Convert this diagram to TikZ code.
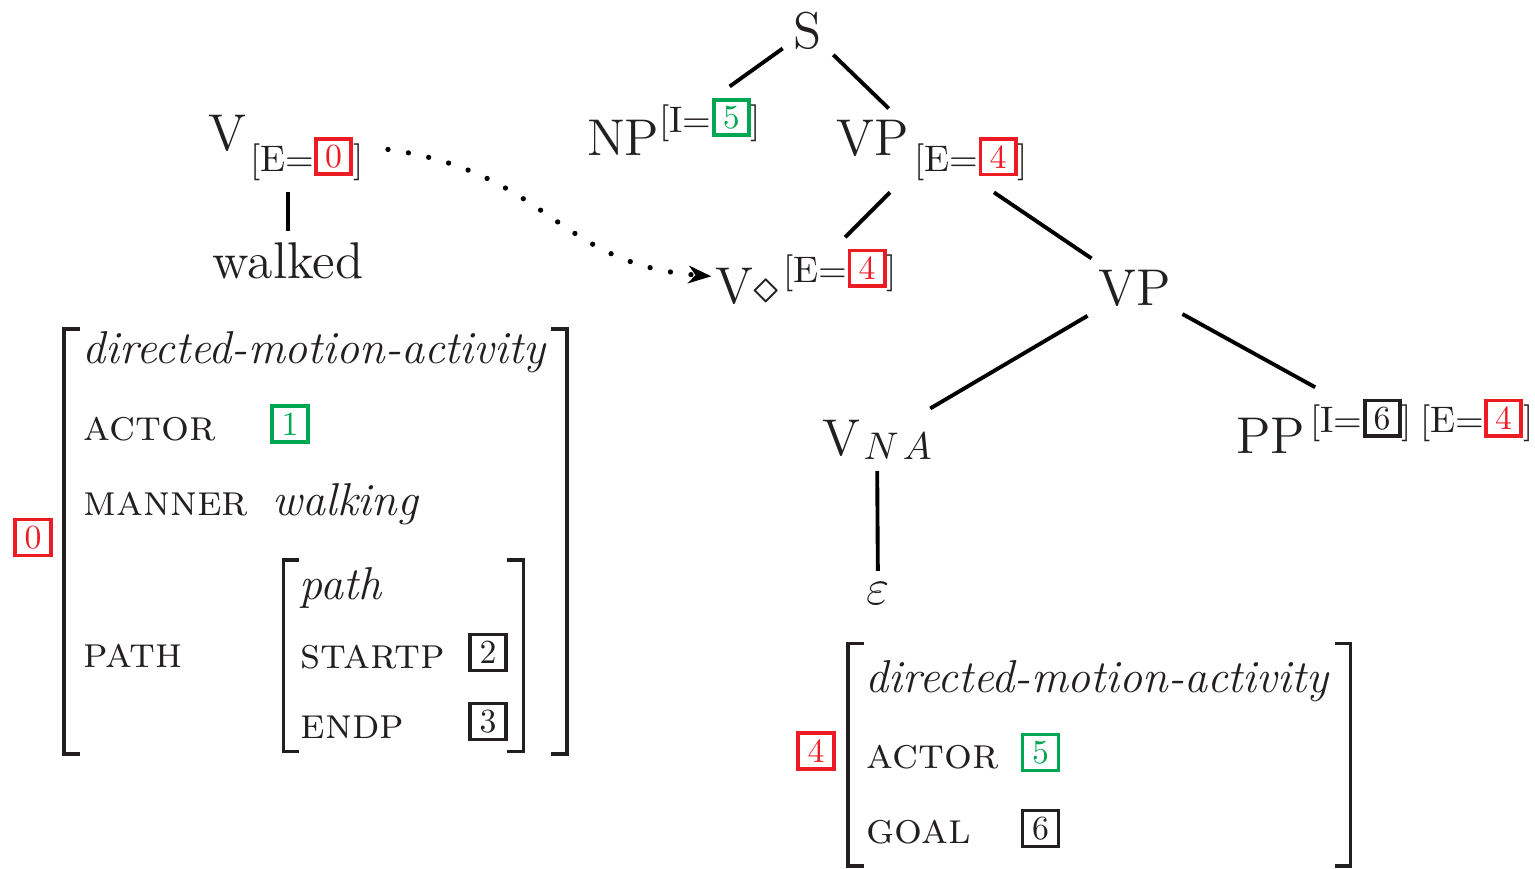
\documentclass[tikz,border=0pt]{standalone}
\usetikzlibrary{arrows.meta}
\definecolor{ink}{RGB}{35,31,32}
\definecolor{tagred}{RGB}{237,28,36}
\definecolor{taggreen}{RGB}{0,166,81}
\newcommand{\treesize}{\fontsize{14.7}{17}\selectfont}
\newcommand{\avmsize}{\fontsize{12.5}{15}\selectfont}
\newcommand{\typesize}{\fontsize{13.1}{16}\selectfont}
\newcommand{\featsize}{\fontsize{10.5}{12}\selectfont}
\newcommand{\featup}[2]{\raisebox{#1}{\featsize #2}}
\newcommand{\tagbox}[2]{\raisebox{1.1pt}{\textcolor{#1}{\setlength{\fboxrule}{1.1pt}\setlength{\fboxsep}{0pt}\fbox{\makebox[8.9pt]{\rule[-1.3pt]{0pt}{8.9pt}\fontsize{9.6}{10}\selectfont #2}}}}}
\begin{document}
\begin{tikzpicture}[x=0.01cm,y=-0.01cm,
  label/.style={anchor=base,inner sep=3pt,text=ink,font=\treesize},
  branch/.style={line width=1.1pt},
  feature/.style={anchor=base west,inner sep=0pt,text=ink,font=\avmsize},
  avmtype/.style={anchor=base west,inner sep=0pt,text=ink,font=\typesize\itshape},
  tagnode/.style={draw=#1,text=#1,line width=1.1pt,minimum size=0.36cm,inner sep=0pt,font=\fontsize{9.6}{10}\selectfont},
  avmbracket/.style={draw=ink,line width=1.1pt},
  linkarrow/.style={line width=1.5pt,line cap=round,dash pattern=on 0pt off 5.9pt,-{Stealth[length=6.5pt,width=5pt,inset=2pt]}}]
\useasboundingbox (0,0) rectangle (1535,869);

% tree
\node[label] (S) at (808,48) {S};
\node[label] (NP) at (674,155) {NP\featup{6.5pt}{[I=\tagbox{taggreen}{5}]}};
\node[label] (VP) at (932,155) {VP\kern1.7pt\featup{-4.8pt}{[E=\tagbox{tagred}{4}]}};
\node[label] (Vd) at (806,303) {V$\diamond$\kern1.4pt\featup{5.7pt}{[E=\tagbox{tagred}{4}]}};
\node[label] (VPtwo) at (1135,305) {VP};
\node[label] (VNA) at (877,455) {V\kern1pt\featup{-1.4pt}{$N\mkern2mu A$}};
\node[label] (PP) at (1385,453) {PP\kern1.4pt\featup{5.7pt}{[I=\tagbox{ink}{6}]\kern2.3pt[E=\tagbox{tagred}{4}]}};
\node[label] (eps) at (878,604) {$\varepsilon$};
\draw[branch] (S) -- (NP);
\draw[branch] (S) -- (VP);
\draw[branch] (VP) -- (Vd);
\draw[branch] (VP) -- (VPtwo);
\draw[branch] (VPtwo) -- (VNA);
\draw[branch] (VPtwo) -- (PP);
\draw[branch] (VNA) -- (eps);

% lexical entry
\node[label] (V0) at (286,150) {V\kern1pt\featup{-6pt}{[E=\tagbox{tagred}{0}]}};
\node[label] (walked) at (288,278) {walked};
\draw[branch] (walked |- V0.south) -- (walked);
\draw[linkarrow,shorten <=3.8pt] (V0.east) .. controls +(175,25) and +(-155,-12) .. ([xshift=2.1pt]Vd.west);

% avm of walked
\draw[avmbracket] (80,329) -- (64,329) -- (64,754) -- (80,754);
\draw[avmbracket] (551,329) -- (567,329) -- (567,754) -- (551,754);
\node[tagnode=tagred] (tagzero) at (33,537.5) {0};
\node[avmtype] (typeone) at (82,363) {directed-motion-activity};
\node[feature] (actorone) at (83,440) {\textsc{actor}};
\node[tagnode=taggreen] (tagone) at (290,424) {1};
\node[feature] (manner) at (83,515) {\textsc{manner}};
\node[avmtype] (walking) at (272,515) {walking};
\node[feature] (path) at (83,667) {\textsc{path}};
\draw[avmbracket] (299,560) -- (283.5,560) -- (283.5,751.5) -- (299,751.5);
\draw[avmbracket] (507,560) -- (523.5,560) -- (523.5,751.5) -- (507,751.5);
\node[avmtype] (typepath) at (299,599) {path};
\node[feature] (startp) at (300,668) {\textsc{startp}};
\node[tagnode=ink] (tagtwo) at (488,652.5) {2};
\node[feature] (endp) at (300,738) {\textsc{endp}};
\node[tagnode=ink] (tagthree) at (488,721.5) {3};

% avm of the empty verb
\draw[avmbracket] (864,643.5) -- (848,643.5) -- (848,866) -- (864,866);
\draw[avmbracket] (1335,643.5) -- (1350.5,643.5) -- (1350.5,866) -- (1335,866);
\node[tagnode=tagred] (tagfour) at (816,751) {4};
\node[avmtype] (typetwo) at (865,692) {directed-motion-activity};
\node[feature] (actortwo) at (866,768) {\textsc{actor}};
\node[tagnode=taggreen] (tagfive) at (1040.5,752.5) {5};
\node[feature] (goal) at (866,843) {\textsc{goal}};
\node[tagnode=ink] (tagsix) at (1040.5,828.5) {6};
\end{tikzpicture}
\end{document}
